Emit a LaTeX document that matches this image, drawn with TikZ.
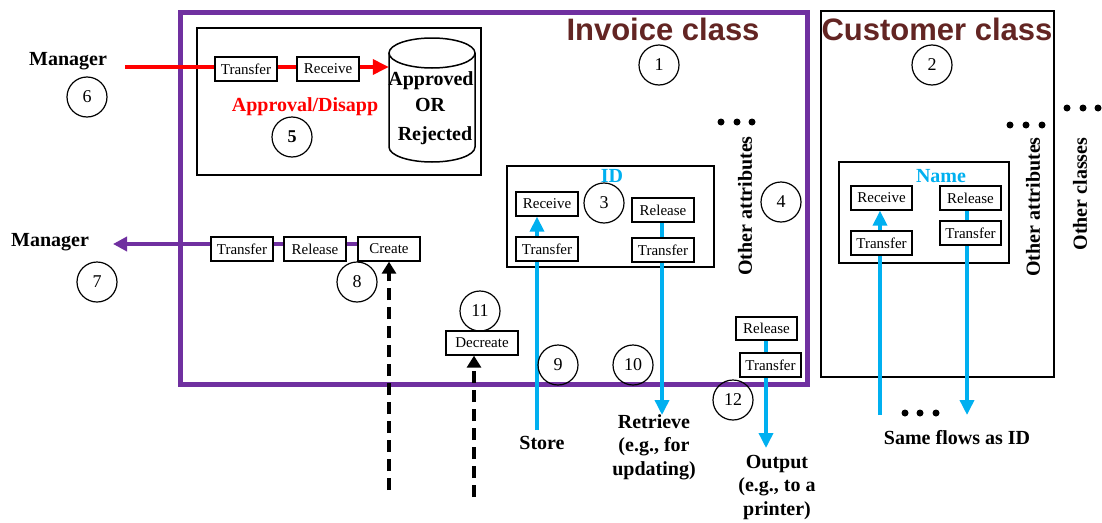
\documentclass[tikz,border=0pt]{standalone}
\usepackage{fontspec}
\setmainfont{Liberation Serif}
\newfontfamily\arialf{Liberation Sans}
\usetikzlibrary{arrows.meta}
\definecolor{tmpurple}{RGB}{112,48,160}
\definecolor{tmblue}{RGB}{0,176,240}
\definecolor{tmtitle}{RGB}{99,37,35}
\pgfdeclarelayer{bgzero}
\pgfdeclarelayer{bgone}
\pgfsetlayers{bgzero,bgone,main}
\begin{document}
\begin{tikzpicture}[x=1pt,y=-1pt,
 smallbox/.style={draw, line width=1.3pt, fill=white, minimum width=62pt, minimum height=24pt, inner sep=0pt, font=\fontsize{15}{15}\selectfont},
 numc/.style={circle, draw, line width=1.2pt, minimum size=40pt, inner sep=0pt, font=\fontsize{18}{18}\selectfont},
 lbl/.style={font=\bfseries\fontsize{20}{23.5}\selectfont, align=center, inner sep=0pt},
 titlelbl/.style={font=\arialf\bfseries\fontsize{31}{31}\selectfont, text=tmtitle, inner sep=0pt},
 boxframe/.style={draw, line width=1.5pt},
 blueflow/.style={draw=tmblue, line width=3.5pt, -{Triangle[length=15pt,width=14pt]}},
 redflow/.style={draw=red, line width=3.5pt, -{Triangle[length=16pt,width=15pt]}},
 purpleflow/.style={draw=tmpurple, line width=3.5pt, -{Triangle[length=14pt,width=14pt]}},
 dashflow/.style={draw=black, line width=3.5pt, dash pattern=on 12pt off 7pt, -{Triangle[length=12pt,width=14pt]}},
 dotmark/.style={fill=black, circle, inner sep=0pt, minimum size=7pt},
]
\useasboundingbox (0,0) rectangle (1102,522);
\begin{pgfonlayer}{bgzero}
\fill[white] (0,0) rectangle (1102,522);
\draw[tmpurple, line width=5pt] (180,12) rectangle (807,384);
\draw[boxframe] (821,11) rectangle (1054,377);
\draw[boxframe] (197,28) rectangle (481,175);
\draw[boxframe] (507,166) rectangle (714,267);
\draw[boxframe] (839,162) rectangle (1009,263);
\end{pgfonlayer}

% titles
\node[titlelbl] (tinv) at (663,29) {Invoice class};
\node[titlelbl] (tcus) at (937,29) {Customer class};

% approval sub-box
\node[smallbox] (rTrans) at (246,69) {Transfer};
\node[smallbox] (rRecv) at (328,69) {Receive};
\draw[line width=1.5pt, fill=white] (389,53) -- (389,147) arc[start angle=180, end angle=0, x radius=43, y radius=15] -- (475,53);
\draw[line width=1.5pt] (432,53) ellipse [x radius=43, y radius=15];
\node[minimum width=86pt, minimum height=124pt, inner sep=0pt] (db) at (432,100) {};
\node[lbl] (tappr) at (431,81) {Approved};
\node[lbl] (tor) at (430,105) {OR};
\node[lbl] (trej) at (435,136) {Rejected};
\node[lbl, text=red] (tapd) at (305,107) {Approval/Disapp};

% purple flow boxes
\node[smallbox] (pTrans) at (242,249) {Transfer};
\node[smallbox] (pRel) at (315,249) {Release};
\node[smallbox] (create) at (389,249) {Create};
\node[smallbox, minimum width=72pt] (decr) at (482,343) {Decreate};

% ID boxes
\node[lbl, text=tmblue] (tid) at (612,176) {ID};
\node[smallbox] (idRecv) at (547,204) {Receive};
\node[smallbox] (idTransL) at (547,249) {Transfer};
\node[smallbox] (idRel) at (663,210) {Release};
\node[smallbox] (idTransR) at (663,250) {Transfer};

% output boxes
\node[smallbox, minimum width=61pt, minimum height=23pt] (outRel) at (766.5,328.5) {Release};
\node[smallbox, minimum width=61pt] (outTrans) at (770.5,365) {Transfer};

% Name boxes
\node[lbl, text=tmblue] (tname) at (941,176) {Name};
\node[smallbox, minimum width=61pt] (nRecv) at (881.5,198) {Receive};
\node[smallbox, minimum width=61pt] (nTransL) at (881.5,243) {Transfer};
\node[smallbox, minimum width=61pt] (nRel) at (970.5,198) {Release};
\node[smallbox, minimum width=61pt] (nTransR) at (970.5,233) {Transfer};

% labels
\node[lbl] (mgrA) at (68,61) {Manager};
\node[lbl] (mgrB) at (50,242) {Manager};
\node[lbl] (store) at (542,443) {Store};
\node[lbl] (retr) at (654,447) {Retrieve\\(e.g., for\\updating)};
\node[lbl] (outp) at (777,487) {Output\\(e.g., to a\\printer)};
\node[lbl] (same) at (957,438) {Same flows as ID};
\node[lbl, rotate=90] (oaA) at (745,206) {Other attributes};
\node[lbl, rotate=90] (oaB) at (1033,207) {Other attributes};
\node[lbl, rotate=90] (ocl) at (1080,194) {Other classes};

% dots
\foreach \i/\x/\y in {a1/721/122, a2/737/122, a3/752/122,
  b1/1010/125, b2/1026/125, b3/1042/125,
  c1/1067/108, c2/1083/108, c3/1098/108,
  e1/905/413, e2/920/413, e3/936/413}
  \node[dotmark] (dot\i) at (\x,\y) {};

% numbered circles
\node[numc] (n1) at (659,65) {1};
\node[numc] (n2) at (932,65) {2};
\node[numc] (n3) at (604,203) {3};
\node[numc] (n4) at (781,202) {4};
\node[numc, font=\bfseries\fontsize{18}{18}\selectfont] (n5) at (292,137) {5};
\node[numc] (n6) at (87,97) {6};
\node[numc] (n7) at (97,282) {7};
\node[numc] (n8) at (357,282) {8};
\node[numc] (n9) at (558,365) {9};
\node[numc] (n10) at (633,365) {10};
\node[numc] (n11) at (480,311) {11};
\node[numc] (n12) at (733,400) {12};

% connectors
\begin{pgfonlayer}{bgone}
\coordinate (redTail) at (125,67);
\draw[redflow] (redTail) -- (redTail -| db.west);
\coordinate (purTip) at (113,244);
\draw[purpleflow] (purTip -| create.west) -- (purTip);
\coordinate (dashA) at (389,490);
\draw[dashflow] (dashA) -- (create.south);
\coordinate (dashB) at (474,497);
\draw[dashflow] (dashB) -- (dashB |- decr.south);
\coordinate (storeTail) at (537,430);
\draw[blueflow] (storeTail) -- (storeTail |- idRecv.south);
\coordinate (retrTip) at (662,415);
\draw[blueflow] (retrTip |- idRel.south) -- (retrTip);
\coordinate (outTip) at (766,448);
\draw[blueflow] (outTip |- outRel.south) -- (outTip);
\coordinate (cUpTail) at (880,415);
\draw[blueflow] (cUpTail) -- (cUpTail |- nRecv.south);
\coordinate (cDnTip) at (967,415);
\draw[blueflow] (cDnTip |- nRel.south) -- (cDnTip);
\end{pgfonlayer}
\end{tikzpicture}
\end{document}
